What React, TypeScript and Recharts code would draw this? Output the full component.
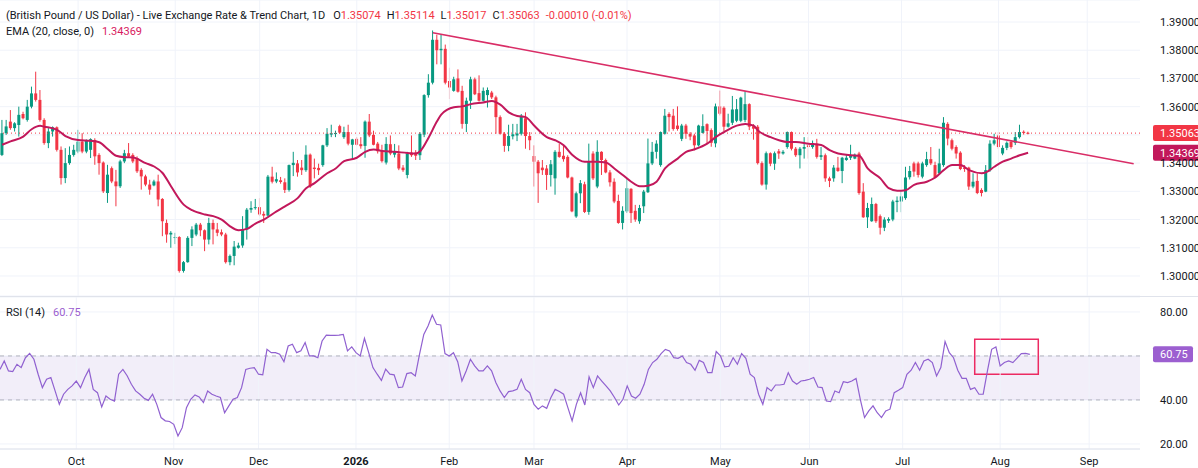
import React from 'react';
import {
  ComposedChart,
  Bar,
  Line,
  XAxis,
  YAxis,
  CartesianGrid,
  ReferenceLine,
  ReferenceArea,
} from 'recharts';

const FONT = 'Roboto, "Liberation Sans", Arial, sans-serif';
const UP = '#089981';
const DOWN = '#f23645';
const EMA_COLOR = '#c2185b';
const TREND_COLOR = '#d92d66';
const RSI_COLOR = '#9061d0';

// daily candles [open, high, low, close], index 0 = 5 Sep 2025
const candles: number[][] = [
  [1.3429, 1.3553, 1.3425, 1.3506], [1.3506, 1.3553, 1.35, 1.353], [1.3547, 1.3588, 1.3518, 1.3524], [1.3524, 1.3545, 1.3512, 1.3541],
  [1.3535, 1.36, 1.3494, 1.3571], [1.3574, 1.3582, 1.3555, 1.3559], [1.3553, 1.3624, 1.3547, 1.36], [1.36, 1.3671, 1.3594, 1.3647],
  [1.3647, 1.3724, 1.3618, 1.3624], [1.3624, 1.3659, 1.3547, 1.3553], [1.3553, 1.3559, 1.3465, 1.3471], [1.3471, 1.3524, 1.3453, 1.3512],
  [1.3512, 1.353, 1.3494, 1.3527], [1.3527, 1.353, 1.3441, 1.3447], [1.3447, 1.3459, 1.3324, 1.3347], [1.3347, 1.3453, 1.3329, 1.34],
  [1.34, 1.3459, 1.3394, 1.3429], [1.3429, 1.3465, 1.3423, 1.3447], [1.3441, 1.3518, 1.3435, 1.3476], [1.3476, 1.3506, 1.3435, 1.3441],
  [1.3441, 1.3484, 1.3435, 1.3482], [1.3447, 1.3488, 1.3418, 1.3485], [1.3482, 1.3488, 1.3394, 1.3424], [1.3429, 1.3435, 1.3359, 1.34],
  [1.3402, 1.3406, 1.3294, 1.33], [1.3294, 1.3394, 1.3259, 1.3359], [1.3382, 1.3388, 1.3329, 1.3335], [1.3335, 1.3376, 1.3247, 1.3318],
  [1.3318, 1.3412, 1.3312, 1.3406], [1.3406, 1.3447, 1.34, 1.3435], [1.3435, 1.3471, 1.3418, 1.3424], [1.3429, 1.3435, 1.34, 1.3406],
  [1.3418, 1.3424, 1.3365, 1.3371], [1.3376, 1.3382, 1.3306, 1.3353], [1.3353, 1.3359, 1.3318, 1.3324], [1.3324, 1.3341, 1.3288, 1.3306],
  [1.3321, 1.3341, 1.3318, 1.3335], [1.3335, 1.3359, 1.3247, 1.3271], [1.3273, 1.3276, 1.3141, 1.3194], [1.3188, 1.32, 1.3118, 1.3147],
  [1.3147, 1.3159, 1.31, 1.3153], [1.3135, 1.3153, 1.3113, 1.3138], [1.3138, 1.3141, 1.3012, 1.3018], [1.3018, 1.3053, 1.3012, 1.3049],
  [1.3049, 1.3141, 1.3047, 1.3135], [1.3135, 1.3176, 1.3106, 1.3165], [1.3147, 1.3188, 1.3141, 1.3182], [1.3182, 1.3188, 1.3141, 1.3162],
  [1.3162, 1.3165, 1.3088, 1.3129], [1.3129, 1.3206, 1.3112, 1.3188], [1.3188, 1.32, 1.3112, 1.3165], [1.3165, 1.3188, 1.3141, 1.3153],
  [1.3155, 1.3165, 1.3141, 1.3147], [1.3147, 1.3153, 1.3044, 1.3049], [1.3049, 1.3076, 1.3038, 1.3071], [1.3071, 1.3124, 1.3038, 1.3104],
  [1.31, 1.3118, 1.3097, 1.3108], [1.3108, 1.3212, 1.31, 1.3165], [1.3165, 1.3241, 1.3129, 1.3235], [1.3235, 1.3265, 1.3224, 1.3241],
  [1.3241, 1.3273, 1.3235, 1.3244], [1.3244, 1.3276, 1.3212, 1.3218], [1.322, 1.3229, 1.3188, 1.3214], [1.3214, 1.3358, 1.3211, 1.3352],
  [1.3352, 1.3387, 1.3328, 1.3334], [1.3335, 1.3367, 1.3329, 1.3343], [1.3339, 1.3351, 1.3327, 1.3333], [1.3332, 1.3346, 1.3294, 1.3305],
  [1.3305, 1.3395, 1.3299, 1.3393], [1.3393, 1.344, 1.3354, 1.3401], [1.3399, 1.3411, 1.3352, 1.3367], [1.3384, 1.3411, 1.3358, 1.3375],
  [1.3375, 1.3463, 1.3369, 1.343], [1.343, 1.3434, 1.3312, 1.3317], [1.3384, 1.3416, 1.3346, 1.3379], [1.3383, 1.3398, 1.3358, 1.3375],
  [1.3393, 1.3465, 1.3387, 1.3463], [1.3463, 1.3524, 1.3457, 1.3504], [1.3501, 1.3536, 1.3492, 1.3506], [1.3503, 1.3515, 1.3492, 1.3507],
  [1.3531, 1.3536, 1.3504, 1.3508], [1.3492, 1.3529, 1.3486, 1.351], [1.351, 1.3536, 1.3463, 1.3469], [1.3465, 1.3486, 1.3411, 1.3484],
  [1.3486, 1.3492, 1.3463, 1.3465], [1.3467, 1.3492, 1.3451, 1.346], [1.3461, 1.3551, 1.3419, 1.3547], [1.3547, 1.3574, 1.3492, 1.3498],
  [1.35, 1.3515, 1.3463, 1.3465], [1.3469, 1.3475, 1.3434, 1.3442], [1.3442, 1.3465, 1.3402, 1.3407], [1.3402, 1.3492, 1.3395, 1.3468],
  [1.3467, 1.3498, 1.3428, 1.3434], [1.343, 1.3468, 1.342, 1.344], [1.3434, 1.3463, 1.3375, 1.3381], [1.3384, 1.3393, 1.3369, 1.3375],
  [1.3358, 1.344, 1.3346, 1.3434], [1.3437, 1.3498, 1.3422, 1.3428], [1.3437, 1.3446, 1.3411, 1.3426], [1.3428, 1.351, 1.3411, 1.3504],
  [1.3501, 1.3644, 1.3492, 1.3641], [1.3641, 1.3715, 1.3632, 1.3685], [1.3685, 1.387, 1.3679, 1.3837], [1.3837, 1.3855, 1.375, 1.38],
  [1.38, 1.3855, 1.375, 1.3805], [1.3805, 1.382, 1.3679, 1.3685], [1.3691, 1.3738, 1.3627, 1.3668], [1.3656, 1.3706, 1.3653, 1.3697],
  [1.37, 1.3732, 1.365, 1.3653], [1.3656, 1.3674, 1.3522, 1.3539], [1.3539, 1.3632, 1.351, 1.3621], [1.3621, 1.3706, 1.3592, 1.3697],
  [1.3697, 1.3703, 1.3641, 1.3644], [1.3648, 1.3711, 1.3618, 1.3621], [1.3621, 1.3668, 1.3618, 1.3656], [1.3641, 1.3668, 1.3597, 1.3659],
  [1.365, 1.3656, 1.3627, 1.3633], [1.3633, 1.3639, 1.3504, 1.3563], [1.3563, 1.3569, 1.3501, 1.3504], [1.3504, 1.351, 1.344, 1.3461],
  [1.3461, 1.3536, 1.3442, 1.3496], [1.3495, 1.3539, 1.3484, 1.3502], [1.3498, 1.3539, 1.3478, 1.3505], [1.3504, 1.3574, 1.3498, 1.3568],
  [1.3559, 1.358, 1.3451, 1.3496], [1.3496, 1.351, 1.3446, 1.3481], [1.3425, 1.3463, 1.3317, 1.3405], [1.3405, 1.3411, 1.3259, 1.3364],
  [1.3384, 1.3411, 1.3358, 1.3375], [1.3381, 1.3393, 1.3305, 1.3358], [1.3358, 1.3411, 1.3317, 1.3396], [1.3346, 1.3446, 1.3288, 1.344],
  [1.344, 1.3469, 1.3419, 1.3422], [1.3426, 1.3463, 1.3405, 1.3414], [1.3422, 1.3428, 1.3346, 1.3349], [1.3349, 1.3352, 1.3226, 1.3229],
  [1.3211, 1.3299, 1.3206, 1.3293], [1.3293, 1.334, 1.3258, 1.3329], [1.3325, 1.3334, 1.3223, 1.3227], [1.3227, 1.3469, 1.3217, 1.3405],
  [1.3434, 1.3442, 1.334, 1.3346], [1.3317, 1.3481, 1.3311, 1.344], [1.344, 1.3442, 1.3358, 1.3411], [1.3411, 1.3416, 1.3364, 1.3367],
  [1.3367, 1.3375, 1.3317, 1.3332], [1.3334, 1.3346, 1.3258, 1.3264], [1.3266, 1.3288, 1.3185, 1.3188], [1.3188, 1.3247, 1.3165, 1.3231],
  [1.3229, 1.3346, 1.3223, 1.3311], [1.3309, 1.3311, 1.3188, 1.3223], [1.3231, 1.3252, 1.3192, 1.32], [1.3194, 1.3252, 1.3185, 1.3241],
  [1.3247, 1.3305, 1.3223, 1.3299], [1.3297, 1.3487, 1.3294, 1.3399], [1.3399, 1.3475, 1.3393, 1.344], [1.344, 1.3481, 1.3416, 1.3469],
  [1.3393, 1.3512, 1.3387, 1.351], [1.3504, 1.3592, 1.3501, 1.3568], [1.3574, 1.358, 1.3512, 1.3563], [1.3568, 1.3592, 1.3515, 1.3521],
  [1.3533, 1.3601, 1.3515, 1.3521], [1.3486, 1.3539, 1.3478, 1.3533], [1.3533, 1.3539, 1.3486, 1.3504], [1.3504, 1.351, 1.3481, 1.3494],
  [1.3498, 1.3504, 1.3445, 1.3463], [1.3463, 1.3536, 1.3459, 1.3533], [1.3507, 1.3573, 1.3505, 1.3531], [1.3538, 1.3541, 1.3471, 1.3514],
  [1.3517, 1.3523, 1.3458, 1.3472], [1.347, 1.3611, 1.3456, 1.3601], [1.3601, 1.3657, 1.3569, 1.3575], [1.3596, 1.3601, 1.3511, 1.3529],
  [1.3529, 1.3575, 1.3526, 1.3541], [1.3543, 1.3638, 1.3535, 1.359], [1.355, 1.3627, 1.3545, 1.3591], [1.355, 1.3635, 1.3545, 1.3632],
  [1.3553, 1.3654, 1.3545, 1.3609], [1.3609, 1.3612, 1.3517, 1.3529], [1.3531, 1.3538, 1.3483, 1.3522], [1.3529, 1.3535, 1.3395, 1.34],
  [1.34, 1.3406, 1.332, 1.3324], [1.3324, 1.3441, 1.3306, 1.3435], [1.3435, 1.3438, 1.3389, 1.3398], [1.3398, 1.3441, 1.3376, 1.3435],
  [1.3442, 1.345, 1.3415, 1.3434], [1.3434, 1.3446, 1.343, 1.344], [1.3457, 1.3512, 1.3451, 1.351], [1.351, 1.3512, 1.3445, 1.3451],
  [1.3451, 1.3457, 1.3422, 1.3428], [1.3428, 1.3457, 1.3381, 1.3451], [1.3451, 1.3492, 1.3416, 1.3457], [1.3463, 1.3492, 1.3416, 1.3457],
  [1.3457, 1.348, 1.3451, 1.3469], [1.3469, 1.3486, 1.3416, 1.3422], [1.3422, 1.3457, 1.3411, 1.3428], [1.3428, 1.3434, 1.3334, 1.3346],
  [1.3346, 1.3352, 1.3315, 1.3337], [1.3346, 1.3393, 1.3334, 1.3384], [1.3384, 1.3422, 1.3369, 1.3372], [1.3372, 1.3422, 1.3329, 1.3419],
  [1.3411, 1.3431, 1.3408, 1.3419], [1.3419, 1.3465, 1.3411, 1.3428], [1.3416, 1.3434, 1.3414, 1.343], [1.3434, 1.344, 1.3288, 1.3294],
  [1.3299, 1.3329, 1.3206, 1.3208], [1.3208, 1.3259, 1.317, 1.3241], [1.3194, 1.3278, 1.3192, 1.3255], [1.3255, 1.3259, 1.3188, 1.3194],
  [1.3212, 1.3218, 1.3147, 1.3171], [1.3171, 1.3208, 1.3159, 1.32], [1.3196, 1.3208, 1.3188, 1.3202], [1.32, 1.327, 1.3194, 1.3264],
  [1.3262, 1.3282, 1.3226, 1.3267], [1.3264, 1.33, 1.3226, 1.3282], [1.3276, 1.3387, 1.327, 1.3349], [1.335, 1.339, 1.3342, 1.3372],
  [1.3399, 1.3405, 1.3352, 1.337], [1.3399, 1.3405, 1.3349, 1.3358], [1.3352, 1.3405, 1.3346, 1.3399], [1.3393, 1.344, 1.3387, 1.3414],
  [1.3414, 1.3457, 1.3393, 1.3399], [1.3393, 1.3405, 1.3346, 1.3349], [1.3364, 1.3451, 1.3358, 1.3399], [1.3393, 1.3563, 1.3387, 1.3543],
  [1.3539, 1.3545, 1.3463, 1.3487], [1.3481, 1.3487, 1.3445, 1.3451], [1.3457, 1.3463, 1.3416, 1.3434], [1.3437, 1.3442, 1.3375, 1.3379],
  [1.3384, 1.3393, 1.3369, 1.3379], [1.3384, 1.3387, 1.3305, 1.3317], [1.3317, 1.3364, 1.3311, 1.3334], [1.3337, 1.3364, 1.329, 1.3294],
  [1.3305, 1.3311, 1.3282, 1.3294], [1.3299, 1.3393, 1.3297, 1.3375], [1.3375, 1.3481, 1.3369, 1.3469], [1.3469, 1.3504, 1.3463, 1.3481],
  [1.3498, 1.351, 1.3451, 1.3457], [1.3434, 1.3463, 1.3428, 1.3454], [1.3454, 1.3477, 1.3446, 1.3472], [1.3475, 1.3481, 1.3451, 1.3457],
  [1.3472, 1.351, 1.3464, 1.3492], [1.3492, 1.3536, 1.3487, 1.351], [1.3511, 1.3516, 1.3501, 1.3507], [1.35074, 1.35114, 1.35017, 1.35063],
];

// EMA (20): [bar index, value]
const emaPoints: number[][] = [
  [0, 1.3465], [2, 1.3477], [5, 1.3494], [7, 1.352], [9, 1.3532], [10, 1.3529], [13, 1.3518], [15, 1.3496], [18, 1.3482], [21, 1.3479],
  [23, 1.3474], [25, 1.345], [27, 1.3426], [29, 1.3421], [31, 1.342], [34, 1.34], [36, 1.3388], [38, 1.3365], [40, 1.3318], [43, 1.3253],
  [45, 1.3233], [48, 1.3218], [50, 1.3212], [52, 1.32], [54, 1.3176], [56, 1.3162], [58, 1.3167], [60, 1.3186], [62, 1.32], [65, 1.3229],
  [67, 1.3247], [70, 1.3276], [72, 1.3311], [74, 1.3329], [77, 1.3364], [79, 1.3381], [81, 1.3407], [84, 1.3419], [86, 1.344], [88, 1.3448],
  [90, 1.3443], [93, 1.344], [96, 1.3436], [98, 1.3434], [99, 1.3442], [101, 1.349], [103, 1.3548], [104, 1.3572], [107, 1.3598], [109, 1.3601],
  [111, 1.3609], [114, 1.3615], [116, 1.362], [118, 1.3607], [120, 1.358], [122, 1.3567], [124, 1.3563], [126, 1.3533], [129, 1.3492], [131, 1.3481],
  [133, 1.3463], [135, 1.343], [138, 1.3405], [141, 1.3405], [143, 1.3402], [145, 1.3381], [147, 1.3358], [149, 1.3334], [151, 1.3318], [153, 1.332],
  [155, 1.3334], [157, 1.3381], [160, 1.3416], [162, 1.344], [164, 1.3449], [167, 1.3469], [169, 1.3492], [171, 1.351], [174, 1.3533], [176, 1.3539],
  [178, 1.3533], [179, 1.3516], [182, 1.3492], [184, 1.3481], [186, 1.3475], [188, 1.3475], [191, 1.3469], [194, 1.3464], [196, 1.3446], [198, 1.3434],
  [201, 1.3428], [203, 1.3426], [205, 1.3381], [208, 1.3346], [210, 1.3311], [212, 1.3302], [214, 1.3304], [216, 1.3323], [219, 1.3334], [221, 1.3349],
  [223, 1.3375], [225, 1.3393], [227, 1.3393], [229, 1.3375], [232, 1.3364], [233, 1.3367], [235, 1.3387], [237, 1.3405], [239, 1.3416], [241, 1.3428],
  [243, 1.34369],
];

// descending trend line drawn on the chart: [bar index, price]
const trendPoints: number[][] = [[102, 1.3862], [268, 1.3398]];

// RSI (14), one value per bar
const rsi: number[] = [
  53.9, 57.7, 53.2, 52.9, 56.2, 54.7, 59.2, 61.2, 58.5, 51.7,
  45.6, 49.4, 50.2, 44.1, 38.0, 42.6, 44.8, 46.4, 48.6, 45.6,
  50.2, 53.9, 44.8, 43.3, 36.8, 41.8, 40.3, 39.5, 51.7, 53.9,
  51.0, 47.1, 44.1, 42.6, 40.8, 39.8, 42.6, 38.0, 32.0, 30.5,
  30.2, 28.9, 23.6, 27.4, 36.5, 40.3, 42.3, 41.4, 38.8, 44.1,
  42.6, 41.8, 41.1, 34.2, 37.3, 40.3, 41.1, 45.6, 53.9, 54.4,
  54.7, 51.7, 51.4, 63.0, 61.5, 61.5, 60.8, 57.4, 64.5, 65.3,
  61.5, 62.3, 66.1, 60.0, 60.0, 59.2, 66.8, 69.5, 69.4, 69.4,
  69.5, 69.8, 62.3, 64.1, 61.5, 60.0, 68.0, 61.5, 54.7, 51.7,
  48.9, 54.0, 51.7, 51.4, 45.6, 45.9, 52.0, 52.4, 50.9, 60.8,
  69.8, 73.6, 78.6, 74.4, 74.1, 61.1, 60.0, 61.5, 57.4, 48.6,
  53.2, 58.5, 55.5, 53.2, 53.2, 55.5, 53.2, 47.9, 44.1, 41.1,
  43.8, 44.1, 44.8, 49.4, 44.8, 43.3, 38.0, 35.8, 37.3, 36.2,
  41.1, 44.8, 43.8, 42.6, 36.5, 30.5, 38.0, 43.3, 37.7, 50.5,
  45.6, 50.9, 48.6, 46.4, 44.1, 41.1, 37.7, 40.3, 46.4, 41.8,
  40.8, 42.6, 47.1, 53.9, 57.0, 58.5, 61.1, 63.0, 62.3, 59.2,
  58.9, 60.0, 57.0, 56.2, 53.5, 58.0, 57.0, 52.4, 52.4, 62.0,
  60.0, 55.0, 55.3, 59.2, 56.2, 61.1, 58.9, 51.7, 50.2, 42.6,
  38.0, 45.6, 44.1, 46.8, 46.8, 47.1, 52.4, 48.6, 47.1, 48.6,
  48.9, 49.4, 50.2, 45.9, 45.6, 39.5, 39.2, 44.1, 43.3, 48.3,
  47.9, 48.6, 49.8, 40.3, 32.0, 35.0, 37.3, 34.2, 32.0, 35.0,
  35.8, 43.3, 44.4, 45.6, 51.7, 53.5, 57.0, 53.5, 57.7, 58.5,
  57.0, 50.9, 54.7, 66.5, 61.5, 59.2, 53.5, 49.8, 49.8, 44.8,
  45.6, 42.6, 42.6, 53.2, 63.0, 64.1, 55.5, 57.0, 57.7, 57.0,
  59.0, 61.1, 61.2, 60.75,
];

const monthIdx = [18, 41, 61, 84, 106, 126, 148, 170, 191, 213, 236, 257];
const monthLabels = ['Oct', 'Nov', 'Dec', '2026', 'Feb', 'Mar', 'Apr', 'May', 'Jun', 'Jul', 'Aug', 'Sep'];
const priceTicks = [1.3, 1.31, 1.32, 1.33, 1.34, 1.35, 1.36, 1.37, 1.38, 1.39];
const rsiTicks = [20, 40, 60, 80];

const SLOTS = 270;
const emaMap = new Map(emaPoints.map((p) => [p[0], p[1]]));
const trendMap = new Map(trendPoints.map((p) => [p[0], p[1]]));

const rows = Array.from({ length: SLOTS }, (_, i) => {
  const k = candles[i];
  return {
    i,
    o: k ? k[0] : null,
    h: k ? k[1] : null,
    l: k ? k[2] : null,
    c: k ? k[3] : null,
    ema: emaMap.has(i) ? emaMap.get(i) : null,
    trend: trendMap.has(i) ? trendMap.get(i) : null,
    rsi: i < rsi.length ? rsi[i] : null,
  };
});

const Candle = (props: any) => {
  const { x, y, width, height, payload } = props;
  if (!payload || payload.o == null || height == null) return <g />;
  const { o, h, l, c } = payload;
  const k = h - l > 0 ? height / (h - l) : 0;
  const cx = x + width / 2;
  const yo = y + (h - o) * k;
  const yc = y + (h - c) * k;
  const color = c >= o ? UP : DOWN;
  return (
    <g>
      <line x1={cx} x2={cx} y1={y} y2={y + height} stroke={color} strokeWidth={1} />
      <rect x={cx - 1.5} y={Math.min(yo, yc)} width={3} height={Math.max(1, Math.abs(yo - yc))} fill={color} />
    </g>
  );
};

const makeTag = (text: string, bg: string, w: number) => (props: any) => {
  const vb = props.viewBox;
  if (!vb) return <g />;
  const x0 = vb.x + vb.width + 13;
  return (
    <g>
      <rect x={x0} y={vb.y - 8} width={w} height={16} rx={2} fill={bg} />
      <text x={x0 + 7} y={vb.y + 4} fontSize={11} fill="#ffffff" fontFamily={FONT}>
        {text}
      </text>
    </g>
  );
};

const PriceTick = (props: any) => {
  const { x, y, payload } = props;
  if (Math.abs(payload.value - 1.35) < 1e-6) return <g />;
  return (
    <text x={x} y={y + 4} fontSize={11} fill="#131722" fontFamily={FONT}>
      {payload.value.toFixed(5)}
    </text>
  );
};

const RsiTick = (props: any) => {
  const { x, y, payload } = props;
  if (payload.value === 60) return <g />;
  return (
    <text x={x} y={y + 4} fontSize={11} fill="#131722" fontFamily={FONT}>
      {payload.value.toFixed(2)}
    </text>
  );
};

const MonthTick = (props: any) => {
  const { x, y, payload } = props;
  const n = monthIdx.indexOf(payload.value);
  if (n < 0) return <g />;
  const label = monthLabels[n];
  return (
    <text x={x} y={y + 8} textAnchor="middle" fontSize={11} fill="#131722" fontFamily={FONT} fontWeight={label === '2026' ? 700 : 400}>
      {label}
    </text>
  );
};

const GRID = '#f0f3fa';

export default function App() {
  return (
    <div style={{ position: 'relative', width: 1198, height: 468, background: '#ffffff', overflow: 'hidden', fontFamily: FONT }}>
      <style>{'body{margin:0}'}</style>

      <div style={{ position: 'absolute', left: 0, top: 0 }}>
        <ComposedChart width={1198} height={296} data={rows} margin={{ top: 0, right: 0, bottom: 0, left: 0 }}>
          <CartesianGrid vertical={false} stroke={GRID} />
          <XAxis dataKey="i" type="category" hide />
          <YAxis
            orientation="right"
            width={58}
            domain={[1.29291, 1.3978]}
            allowDataOverflow
            ticks={priceTicks}
            axisLine={false}
            tickLine={false}
            tickMargin={14}
            tick={<PriceTick />}
          />
          {monthIdx.map((m) => (
            <ReferenceLine key={m} x={m} stroke={GRID} />
          ))}
          <ReferenceLine y={1.35063} stroke={DOWN} strokeDasharray="1 3" label={makeTag('1.35063', DOWN, 52)} />
          <Bar
            dataKey={(d: any) => (d.h == null ? null : [d.l, d.h])}
            shape={<Candle />}
            isAnimationActive={false}
          />
          <Line dataKey="ema" type="monotone" connectNulls dot={false} activeDot={false} stroke={EMA_COLOR} strokeWidth={2} isAnimationActive={false} />
          <Line dataKey="trend" type="linear" connectNulls dot={false} activeDot={false} stroke={TREND_COLOR} strokeWidth={1.6} isAnimationActive={false} />
          <ReferenceLine y={1.34369} stroke="none" label={makeTag('1.34369', EMA_COLOR, 52)} />
        </ComposedChart>
      </div>

      <div style={{ position: 'absolute', left: 0, top: 296, width: 1198, height: 1, background: '#e0e3eb' }} />

      <div style={{ position: 'absolute', left: 0, top: 297 }}>
        <ComposedChart width={1198} height={171} data={rows} margin={{ top: 0, right: 0, bottom: 0, left: 0 }}>
          <CartesianGrid vertical={false} stroke={GRID} />
          <XAxis
            dataKey="i"
            type="category"
            height={19}
            interval={0}
            axisLine={{ stroke: '#e0e3eb' }}
            tickLine={false}
            tick={<MonthTick />}
          />
          <YAxis
            orientation="right"
            width={58}
            domain={[17.7, 86.8]}
            allowDataOverflow
            ticks={rsiTicks}
            axisLine={false}
            tickLine={false}
            tickMargin={14}
            tick={<RsiTick />}
          />
          {monthIdx.map((m) => (
            <ReferenceLine key={m} x={m} stroke={GRID} />
          ))}
          <ReferenceArea y1={40} y2={60} fill="#7e57c2" fillOpacity={0.1} stroke="none" />
          <ReferenceLine y={60} stroke="#b2b5be" strokeDasharray="4 4" />
          <ReferenceLine y={40} stroke="#b2b5be" strokeDasharray="4 4" />
          <Line dataKey="rsi" type="linear" dot={false} activeDot={false} stroke={RSI_COLOR} strokeWidth={1.2} isAnimationActive={false} />
          <ReferenceArea x1={230} x2={245} y1={51.7} y2={67.6} fill="none" fillOpacity={0} stroke="#ec2a62" strokeWidth={1.5} />
          <ReferenceLine y={60.75} stroke="none" label={makeTag('60.75', '#9c5fd0', 40)} />
        </ComposedChart>
      </div>

      <div style={{ position: 'absolute', left: 6, top: 8, fontSize: 11, lineHeight: '15px', color: '#131722', whiteSpace: 'nowrap' }}>
        (British Pound / US Dollar) - Live Exchange Rate &amp; Trend Chart, 1D
        <span style={{ marginLeft: 8 }}>O</span><span style={{ color: DOWN }}>1.35074</span>
        <span style={{ marginLeft: 6 }}>H</span><span style={{ color: DOWN }}>1.35114</span>
        <span style={{ marginLeft: 6 }}>L</span><span style={{ color: DOWN }}>1.35017</span>
        <span style={{ marginLeft: 6 }}>C</span><span style={{ color: DOWN }}>1.35063</span>
        <span style={{ marginLeft: 6, color: DOWN }}>-0.00010 (-0.01%)</span>
      </div>
      <div style={{ position: 'absolute', left: 6, top: 24, fontSize: 11, lineHeight: '15px', color: '#131722', whiteSpace: 'nowrap' }}>
        EMA (20, close, 0)
        <span style={{ marginLeft: 8, color: '#d81b60' }}>1.34369</span>
      </div>
      <div style={{ position: 'absolute', left: 6, top: 305, fontSize: 11, lineHeight: '15px', color: '#131722', whiteSpace: 'nowrap' }}>
        RSI (14)
        <span style={{ marginLeft: 8, color: '#9c5fd0' }}>60.75</span>
      </div>
    </div>
  );
}
